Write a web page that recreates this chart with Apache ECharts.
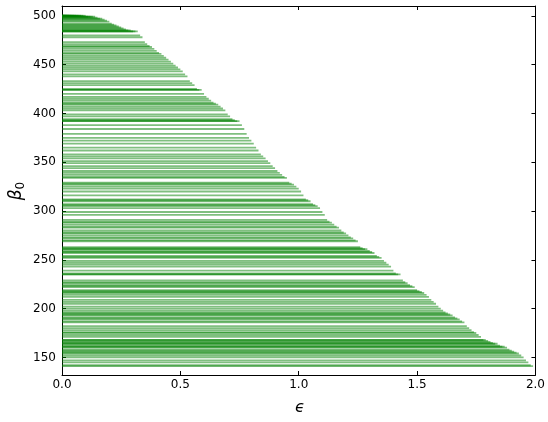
<!DOCTYPE html>
<html>
<head>
<meta charset="utf-8">
<script src="https://cdn.jsdelivr.net/npm/echarts@6/dist/echarts.min.js"></script>
<style>html,body{margin:0;padding:0;background:#fff}#c{width:548px;height:422px}</style>
</head>
<body>
<div id="c"></div>
<script>
// epsilon (bar end) values
var epsilons = [
0.01,0.02,0.03,0.04,0.05,0.06,0.07,0.08,0.09,0.10,
0.11,0.12,0.13,0.14,0.15,0.16,0.17,0.18,0.19,0.20,
0.21,0.22,0.23,0.24,0.25,0.26,0.27,0.28,0.29,0.30,
0.31,0.32,0.33,0.34,0.35,0.36,0.37,0.38,0.39,0.40,
0.41,0.42,0.43,0.44,0.45,0.46,0.47,0.48,0.49,0.50,
0.51,0.52,0.53,0.54,0.55,0.56,0.57,0.58,0.59,0.60,
0.61,0.62,0.63,0.64,0.65,0.66,0.67,0.68,0.69,0.70,
0.71,0.72,0.73,0.74,0.75,0.76,0.77,0.78,0.79,0.80,
0.81,0.82,0.83,0.84,0.85,0.86,0.87,0.88,0.89,0.90,
0.91,0.92,0.93,0.94,0.95,0.96,0.97,0.98,0.99,1.00,
1.01,1.02,1.03,1.04,1.05,1.06,1.07,1.08,1.09,1.10,
1.11,1.12,1.13,1.14,1.15,1.16,1.17,1.18,1.19,1.20,
1.21,1.22,1.23,1.24,1.25,1.26,1.27,1.28,1.29,1.30,
1.31,1.32,1.33,1.34,1.35,1.36,1.37,1.38,1.39,1.40,
1.41,1.42,1.43,1.44,1.45,1.46,1.47,1.48,1.49,1.50,
1.51,1.52,1.53,1.54,1.55,1.56,1.57,1.58,1.59,1.60,
1.61,1.62,1.63,1.64,1.65,1.66,1.67,1.68,1.69,1.70,
1.71,1.72,1.73,1.74,1.75,1.76,1.77,1.78,1.79,1.80,
1.81,1.82,1.83,1.84,1.85,1.86,1.87,1.88,1.89,1.90,
1.91,1.92,1.93,1.94,1.95,1.96,1.97,1.98,1.99
];
// beta_0 value at each epsilon
var betti0 = [
500,500,500,500,500,500,500,500,500,500,
499,499,499,499,498,497,497,496,495,494,
492,491,490,489,488,487,486,485,485,484,
484,484,480,478,473,471,469,468,466,464,
462,461,459,457,455,453,451,449,447,445,
443,440,438,433,431,429,425,424,424,420,
417,415,413,411,410,409,407,405,403,399,
397,394,393,392,392,388,384,379,375,372,
369,365,362,358,356,354,351,349,346,344,
341,339,337,335,334,329,328,327,325,323,
320,316,312,311,310,307,306,305,303,299,
296,291,289,288,286,284,283,280,278,277,
275,273,272,270,269,263,262,261,261,259,
258,257,254,253,252,249,247,245,243,239,
236,235,235,229,227,226,224,223,222,219,
218,217,216,214,212,209,207,205,202,200,
198,196,195,194,193,191,190,189,187,186,
182,180,178,176,175,173,171,168,168,167,
166,165,164,164,162,161,161,160,158,157,
156,155,154,152,150,147,145,142,141
];
var xTicks = [0, 0.5, 1.0, 1.5, 2.0];
var yTicks = [150, 200, 250, 300, 350, 400, 450, 500];

var barData = epsilons.map(function (e, i) { return [e, betti0[i]]; });

var chart = echarts.init(document.getElementById('c'), null, {renderer: 'canvas'});
var font = 'DejaVu Sans';
var axisCommonX = {
  type: 'value', min: 0, max: 2, interval: 0.5,
  axisLine: {show: true, onZero: false, lineStyle: {color: '#000', width: 1}},
  axisTick: {show: true, inside: true, length: 4, customValues: xTicks, lineStyle: {color: '#000'}},
  splitLine: {show: false}
};
var axisCommonY = {
  type: 'value', min: 132, max: 510,
  axisLine: {show: true, onZero: false, lineStyle: {color: '#000', width: 1}},
  axisTick: {show: true, inside: true, length: 4, customValues: yTicks, lineStyle: {color: '#000'}},
  splitLine: {show: false}
};
chart.setOption({
  animation: false,
  backgroundColor: '#fff',
  grid: {left: 62, right: 10, top: 6, bottom: 47, containLabel: false},
  xAxis: [
    Object.assign({}, axisCommonX, {position: 'bottom',
      axisLabel: {show: true, margin: 4, color: '#000', fontFamily: font, fontSize: 12, customValues: xTicks,
        formatter: function (v) { return Number(v).toFixed(1); }}}),
    Object.assign({}, axisCommonX, {position: 'top', axisLabel: {show: false}})
  ],
  yAxis: [
    Object.assign({}, axisCommonY, {position: 'left',
      axisLabel: {show: true, margin: 6, color: '#000', fontFamily: font, fontSize: 12, customValues: yTicks}}),
    Object.assign({}, axisCommonY, {position: 'right', axisLabel: {show: false}})
  ],
  series: [{
    type: 'custom',
    xAxisIndex: 0, yAxisIndex: 0,
    data: barData,
    renderItem: function (params, api) {
      var e = api.value(0), b = api.value(1);
      var p0 = api.coord([0, b]);
      var p1 = api.coord([e, b]);
      return {
        type: 'line',
        shape: {x1: p0[0], y1: p0[1], x2: p1[0], y2: p1[1]},
        style: {stroke: 'rgba(0,128,0,0.5)', lineWidth: 1.8}
      };
    }
  }],
  graphic: [
    {type: 'text', x: 300, y: 408, style: {text: '\u03f5', font: 'italic 16px "DejaVu Sans"', fill: '#000', align: 'center', verticalAlign: 'middle'}},
    {type: 'text', x: 17, y: 191, rotation: Math.PI / 2,
      style: {text: '{b|\u03b2}{s|0}', align: 'center', verticalAlign: 'middle',
        rich: {
          b: {fontFamily: font, fontStyle: 'italic', fontSize: 17, fill: '#000', lineHeight: 20},
          s: {fontFamily: font, fontSize: 12, fill: '#000', lineHeight: 20, verticalAlign: 'bottom', padding: [8, 0, 0, 0]}
        }}}
  ]
});
</script>
</body>
</html>
